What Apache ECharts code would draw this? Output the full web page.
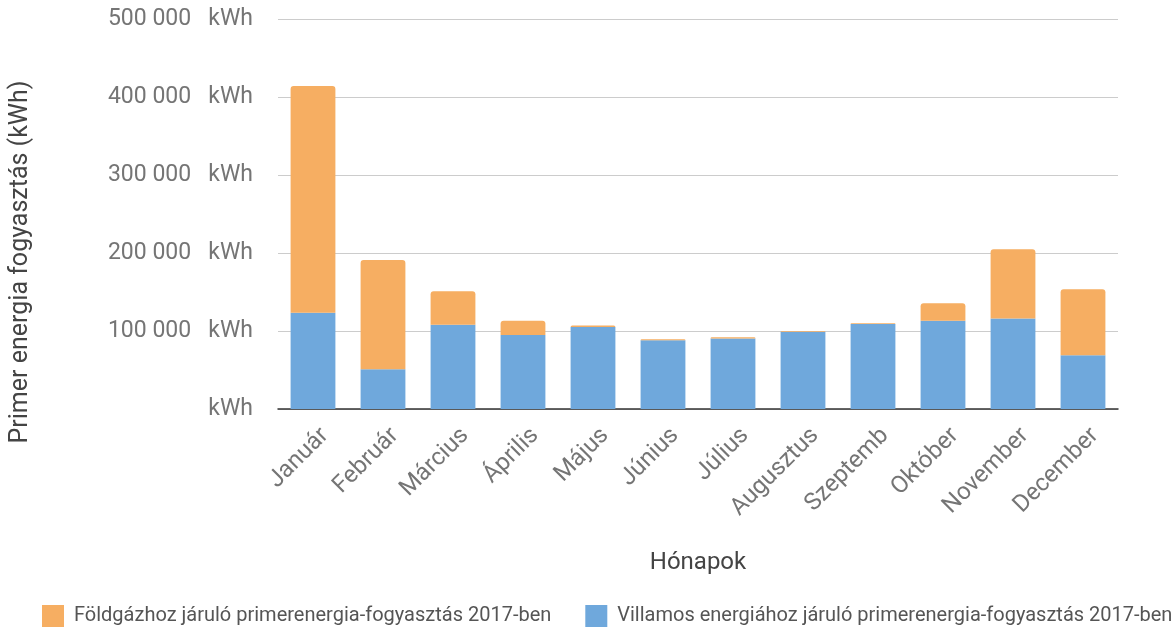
<!DOCTYPE html>
<html>
<head>
<meta charset="utf-8">
<script src="https://cdn.jsdelivr.net/npm/echarts@6/dist/echarts.min.js"></script>
<style>html,body{margin:0;padding:0;background:#fff}#c{width:1175px;height:627px}</style>
</head>
<body>
<div id="c"></div>
<script>
const months = ['Január','Február','Március','Április','Május','Június','Július','Augusztus','Szeptemb','Október','November','December'];
const gasValues = [290500, 140000, 43000, 18000, 2000, 1500, 1500, 1000, 1000, 22500, 88700, 84500];
const elecValues = [123500, 51000, 108000, 95000, 105000, 88000, 90500, 99000, 109000, 113000, 116000, 69000];
const gasName = 'Földgázhoz járuló primerenergia-fogyasztás 2017-ben';
const elecName = 'Villamos energiához járuló primerenergia-fogyasztás 2017-ben';
const yTicks = [0, 100000, 200000, 300000, 400000, 500000];

function fmt(v){
  if (v === 0) return 'kWh';
  return String(v).replace(/\B(?=(\d{3})+(?!\d))/g, ' ') + '   kWh';
}

const chart = echarts.init(document.getElementById('c'));
chart.setOption({
  animation: false,
  textStyle: {fontFamily: 'Roboto'},
  grid: {left: 275, right: 57, top: 19, bottom: 218},
  legend: {
    data: [gasName, elecName],
    left: 37, top: 600, width: 1160,
    itemWidth: 22, itemHeight: 22, itemGap: 34,
    icon: 'rect',
    formatter: function(n){ return ' ' + n; },
    textStyle: {fontSize: 20, color: '#555', fontFamily: 'Roboto'}
  },
  xAxis: {
    type: 'category',
    data: months,
    name: 'Hónapok',
    nameLocation: 'middle',
    nameGap: 142,
    nameTextStyle: {fontSize: 24, color: '#444'},
    axisLine: {lineStyle: {color: '#333', width: 1.5}},
    axisTick: {show: false},
    axisLabel: {rotate: 45, fontSize: 24, color: '#757575', margin: 35, interval: 0, padding: [0, -17, 0, 0]}
  },
  yAxis: {
    type: 'value',
    min: yTicks[0], max: yTicks[yTicks.length - 1], interval: 100000,
    name: 'Primer energia fogyasztás (kWh)',
    nameLocation: 'middle',
    nameGap: 245,
    nameTextStyle: {fontSize: 25, color: '#444', padding: [0, 96, 0, 0]},
    axisLine: {show: false},
    axisTick: {show: false},
    splitLine: {lineStyle: {color: '#cccccc'}},
    axisLabel: {fontSize: 23, color: '#757575', margin: 25, formatter: fmt}
  },
  series: [
    {name: elecName, type: 'bar', stack: 'a', data: elecValues, barWidth: '64%',
     itemStyle: {color: '#6FA8DC'}},
    {name: gasName, type: 'bar', stack: 'a', data: gasValues, barWidth: '64%',
     itemStyle: {color: '#F6AE62', borderRadius: [3,3,0,0]}}
  ]
});
</script>
</body>
</html>
